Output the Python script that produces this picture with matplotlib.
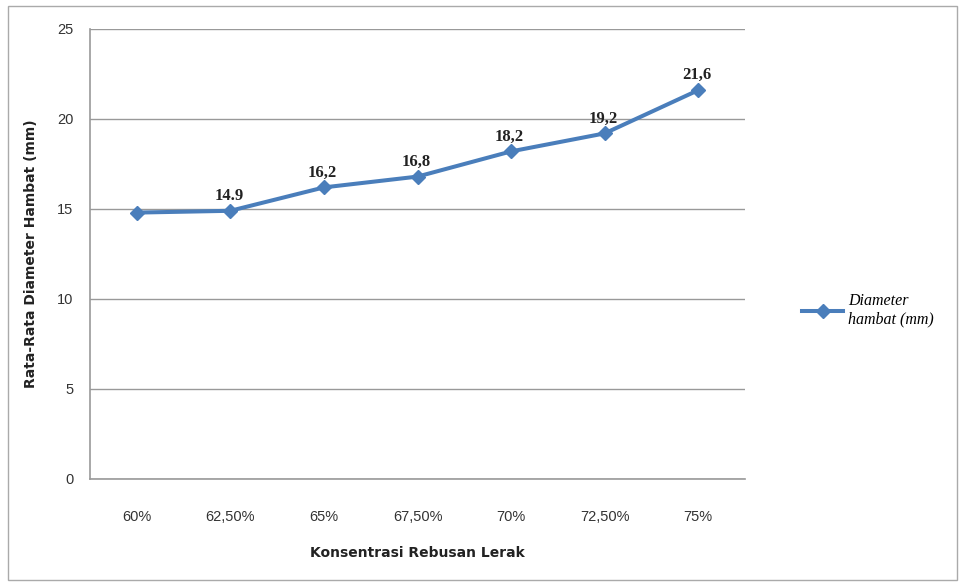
import matplotlib.pyplot as plt
from matplotlib.patches import Rectangle

konsentrasi = ["60%", "62,50%", "65%", "67,50%", "70%", "72,50%", "75%"]
diameter = [14.8, 14.9, 16.2, 16.8, 18.2, 19.2, 21.6]
# text shown above each point (first point carries no label)
label_teks = [None, "14.9", "16,2", "16,8", "18,2", "19,2", "21,6"]

garis = "#4A7EBB"
abu = "#999999"

fig = plt.figure(figsize=(9.6, 5.86), dpi=100)
ax = fig.add_axes([90 / 960, 1 - 479 / 586, 655 / 960, 450 / 586])

x = list(range(len(konsentrasi)))
ax.plot(x, diameter, color=garis, lw=2.9, marker="D", ms=7,
        mfc=garis, mec=garis, label="Diameter\nhambat (mm)", zorder=3)

for xi, yi, t in zip(x, diameter, label_teks):
    if t is None:
        continue
    ax.annotate(t, (xi, yi), xytext=(-1, 5), textcoords="offset points",
                ha="center", va="bottom", fontsize=12, fontweight="bold",
                family="Liberation Serif", color="#222222")

ax.set_xlim(-0.5, len(x) - 0.5)
ax.set_ylim(0, 25)
ax.set_yticks(range(0, 26, 5))
ax.set_xticks(x)
ax.set_xticklabels(konsentrasi, family="Liberation Sans", fontsize=10.5)
for lbl in ax.get_yticklabels():
    lbl.set_family("Liberation Sans")
    lbl.set_fontsize(10.5)
ax.tick_params(axis="both", length=0, colors="#333333")
ax.tick_params(axis="y", pad=12)
ax.tick_params(axis="x", pad=22)

ax.grid(axis="y", color=abu, lw=1)
ax.set_axisbelow(True)
for s in ["top", "right"]:
    ax.spines[s].set_visible(False)
for s in ["left", "bottom"]:
    ax.spines[s].set_color(abu)
    ax.spines[s].set_linewidth(1.2)

ax.set_ylabel("Rata-Rata Diameter Hambat (mm)", fontsize=10, fontweight="bold",
              color="#222222", labelpad=14)
ax.set_xlabel("Konsentrasi Rebusan Lerak", fontsize=10, fontweight="bold",
              color="#222222", labelpad=16)

leg = ax.legend(loc="center left", bbox_to_anchor=(1.065, 0.375), frameon=False,
                prop={"style": "italic", "size": 11.5, "family": "Liberation Serif"},
                handlelength=2.6, handletextpad=0.3)

# outer chart border
fig.patches.append(Rectangle((8 / 960, 6 / 586), 949 / 960, 574 / 586,
                             transform=fig.transFigure, fill=False,
                             edgecolor="#aaaaaa", lw=1))

fig.savefig("out.png", dpi=100)
